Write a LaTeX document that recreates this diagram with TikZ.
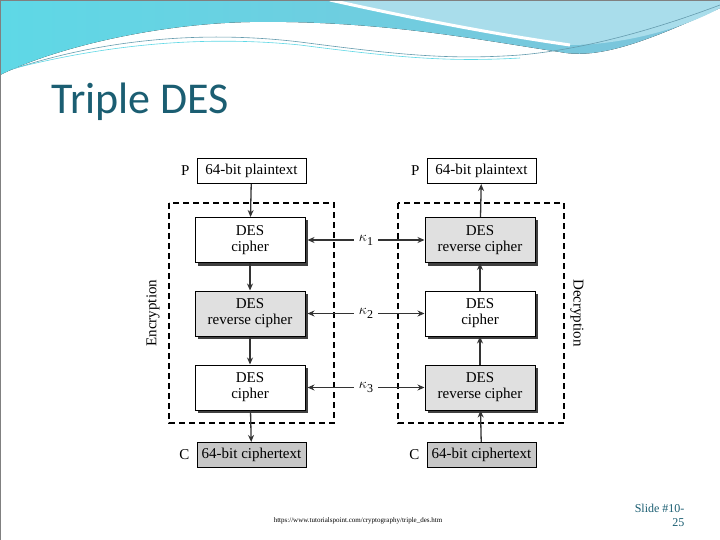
\documentclass[tikz,border=0pt]{standalone}
\usepackage{fontspec}
\setmainfont{Liberation Serif}
\newfontfamily\titlefont{Carlito}
\usetikzlibrary{arrows.meta,shadows}
\definecolor{teal1}{HTML}{1B5E72}
\definecolor{wave1}{HTML}{7FC3DA}
\definecolor{wave2}{HTML}{5ED8E6}
\definecolor{wave3}{HTML}{A9DDEB}
\begin{document}
\begin{tikzpicture}[x=1pt,y=-1pt,
  box/.style={draw,line width=1pt,minimum width=110pt,minimum height=45pt,align=center,font=\fontsize{15}{16}\selectfont,inner sep=0pt,
    general shadow={shadow xshift=3pt,shadow yshift=-3pt,fill=black!75}},
  wbox/.style={box,fill=white},
  gbox/.style={box,fill=black!12},
  io/.style={draw,line width=1pt,minimum width=109pt,minimum height=25pt,inner sep=0pt,font=\fontsize{15}{16}\selectfont},
  lbl/.style={font=\fontsize{15}{16}\selectfont},
  arr/.style={-{Stealth[length=7pt,width=6pt]},line width=1.3pt,black!80},
  dbox/.style={draw,dashed,line width=1.4pt,dash pattern=on 6pt off 4pt}]
\useasboundingbox (0,0) rectangle (720,540);
\fill[white] (0,0) rectangle (720,540);
% header waves
\fill[left color=wave2,right color=wave1] (0,0) -- (720,0) -- (720,8) .. controls (650,40) and (600,60) .. (560,52)
  .. controls (480,40) and (380,20) .. (250,22) .. controls (150,24) and (50,50) .. (0,75) -- cycle;
\fill[wave3] (330,0) -- (720,0) -- (720,8) .. controls (680,30) and (620,45) .. (570,45) .. controls (500,35) and (420,20) .. (330,0) -- cycle;
\draw[white,line width=3pt] (330,0) .. controls (420,20) and (500,35) .. (570,45);
\draw[wave1!80!black,line width=0.6pt] (10,70) .. controls (100,40) and (200,30) .. (300,42) .. controls (400,55) and (450,60) .. (520,55) .. controls (600,48) and (680,20) .. (720,5);
\draw[wave2,line width=0.6pt] (0,72) .. controls (100,45) and (200,35) .. (300,45) .. controls (400,58) and (450,62) .. (520,58);
\draw[gray,line width=0.8pt] (0,0) rectangle (720,540);
\node[anchor=west,text=teal1,font=\titlefont\fontsize{44}{46}\selectfont] (title) at (48,102) {Triple DES};
% diagram
\node[io] (pL) at (251.5,171) {64-bit plaintext};
\node[lbl,anchor=east] (pLl) at (193,171) {P};
\node[wbox] (e1) at (250,240) {DES\\cipher};
\node[gbox] (e2) at (250,313.5) {DES\\reverse cipher};
\node[wbox] (e3) at (250,387.5) {DES\\cipher};
\node[io,fill=black!22] (cL) at (251.5,455) {64-bit ciphertext};
\node[lbl,anchor=east] (cLl) at (193,455) {C};
\node[io] (pR) at (481.5,171) {64-bit plaintext};
\node[lbl,anchor=east] (pRl) at (423,171) {P};
\node[gbox] (d1) at (480,240) {DES\\reverse cipher};
\node[wbox] (d2) at (480,313.5) {DES\\cipher};
\node[gbox] (d3) at (480,387.5) {DES\\reverse cipher};
\node[io,fill=black!22] (cR) at (481.5,455) {64-bit ciphertext};
\node[lbl,anchor=east] (cRl) at (423,455) {C};
\draw[dbox] (169,203) rectangle (334,423);
\draw[dbox] (398,203) rectangle (564,423);
\node[rotate=90,lbl] (enc) at (153,313) {Encryption};
\node[rotate=-90,lbl] (dec) at (577,313) {Decryption};
\foreach \i/\y in {1/240,2/313.5,3/387.5}{
  \node[lbl,inner sep=5pt] (k\i) at (366,\y) {$\kappa$\raisebox{-4pt}{\fontsize{12}{12}\selectfont\i}};
  \draw[arr] (k\i.west) -- ([xshift=2pt]e\i.east);
  \draw[arr] (k\i.east) -- (d\i.west);
}
\draw[arr] (pL) -- (e1);
\draw[arr] (e1) -- (e2);
\draw[arr] (e2) -- (e3);
\draw[arr] (e3) -- (cL);
\draw[arr] (cR) -- (d3);
\draw[arr] (d3) -- (d2);
\draw[arr] (d2) -- (d1);
\draw[arr] (d1) -- (pR);
% footer
\node[font=\fontsize{7}{8}\selectfont] (url) at (358,521) {https://www.tutorialspoint.com/cryptography/triple\_des.htm};
\node[text=teal1,align=right,anchor=east,font=\fontsize{12}{14}\selectfont] (sl) at (688,515) {Slide \#10-\\25};
\end{tikzpicture}
\end{document}
